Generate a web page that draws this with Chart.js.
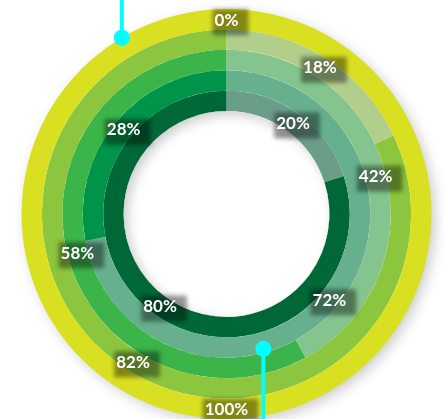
<!DOCTYPE html>
<html>
<head>
<meta charset="utf-8">
<script src="https://cdn.jsdelivr.net/npm/chart.js@4.4.1/dist/chart.umd.min.js"></script>
<style>
  html, body { margin: 0; padding: 0; background: #fff; }
  #wrap { width: 445px; height: 419px; position: relative; }
</style>
</head>
<body>
<div id="wrap"><canvas id="ringChart"></canvas></div>
<script>
// Data: each ring = [remaining, achieved], outer ring first
const segments = ['Remaining', 'Achieved'];
const remaining = [0, 18, 42, 72, 20];
const achieved = [100, 82, 58, 28, 80];

// Colours per ring (solid = achieved, faded = remaining)
const solidColors = ['#d9e021', '#8cc63f', '#3bb54a', '#00934a', '#006837'];
const fadedColors = ['#e8ed8a', '#b1cf8a', '#85c48e', '#67b08d', '#6b9e89'];

// Callout markers (angle in degrees clockwise from top)
const callouts = [
    { ring: 0, angle: 329.3, inset: 0, toTop: true },
    { ring: 3, angle: 164.7, inset: 4, toTop: false }
];

const datasets = remaining.map(function(r, i) {
    return {
        label: 'Ring ' + (i + 1),
        data: [r, achieved[i]],
        backgroundColor: [fadedColors[i], solidColors[i]],
        borderWidth: 0,
        hoverOffset: 0
    };
});

// Soft drop shadow outside the rings and inside the hole
const shadowPlugin = {
    id: 'ringShadow',
    beforeDatasetsDraw(chart) {
        const meta = chart.getDatasetMeta(0).data[0];
        const ctx = chart.ctx;
        ctx.save();
        ctx.shadowColor = 'rgba(0,0,0,0.22)';
        ctx.shadowBlur = 14;
        ctx.shadowOffsetX = 4;
        ctx.shadowOffsetY = 4;
        ctx.fillStyle = '#fff';
        ctx.beginPath();
        ctx.arc(meta.x, meta.y, meta.outerRadius - 1, 0, Math.PI * 2);
        ctx.fill();
        ctx.restore();
    },
    afterDatasetsDraw(chart) {
        const last = chart.getDatasetMeta(remaining.length - 1).data[0];
        const ctx = chart.ctx;
        ctx.save();
        ctx.beginPath();
        ctx.arc(last.x, last.y, last.innerRadius, 0, Math.PI * 2);
        ctx.clip();
        ctx.shadowColor = 'rgba(0,0,0,0.2)';
        ctx.shadowBlur = 12;
        ctx.shadowOffsetX = 4;
        ctx.shadowOffsetY = 4;
        ctx.fillStyle = '#fff';
        ctx.beginPath();
        ctx.rect(0, 0, chart.width, chart.height);
        ctx.arc(last.x, last.y, last.innerRadius, 0, Math.PI * 2);
        ctx.fill('evenodd');
        ctx.restore();
    }
};

// Percentage labels on dark blurred boxes
const labelPlugin = {
    id: 'ringLabels',
    afterDatasetsDraw(chart) {
        const ctx = chart.ctx;
        ctx.save();
        ctx.font = 'bold 17px Lato, "Open Sans", sans-serif';
        ctx.textAlign = 'center';
        ctx.textBaseline = 'middle';
        chart.data.datasets.forEach(function(ds, di) {
            const meta = chart.getDatasetMeta(di);
            meta.data.forEach(function(arc, j) {
                const p = arc.getProps(['x', 'y', 'startAngle', 'endAngle', 'innerRadius', 'outerRadius']);
                const mid = (p.startAngle + p.endAngle) / 2;
                const r = (p.innerRadius + p.outerRadius) / 2;
                const x = p.x + Math.cos(mid) * r;
                const y = p.y + Math.sin(mid) * r;
                const text = ds.data[j] + '%';
                const w = ctx.measureText(text).width + 12;
                const h = 26;
                ctx.save();
                ctx.filter = 'blur(2px)';
                ctx.fillStyle = 'rgba(0,0,0,0.4)';
                ctx.fillRect(x - w / 2 + 4, y - h / 2 + 3, w, h);
                ctx.restore();
                ctx.fillStyle = '#fff';
                ctx.fillText(text, x, y + 1);
            });
        });
        ctx.restore();
    }
};

// Cyan pointer lines with dots
const calloutPlugin = {
    id: 'callouts',
    afterDraw(chart) {
        const ctx = chart.ctx;
        ctx.save();
        ctx.strokeStyle = '#00ffff';
        ctx.fillStyle = '#00ffff';
        ctx.lineWidth = 4;
        callouts.forEach(function(c) {
            const arc = chart.getDatasetMeta(c.ring).data[0];
            const a = (c.angle - 90) * Math.PI / 180;
            const r = arc.outerRadius - c.inset;
            const x = arc.x + Math.cos(a) * r;
            const y = arc.y + Math.sin(a) * r;
            ctx.beginPath();
            ctx.moveTo(x, y);
            ctx.lineTo(x, c.toTop ? 0 : chart.height);
            ctx.stroke();
            ctx.beginPath();
            ctx.arc(x, y, 8, 0, Math.PI * 2);
            ctx.fill();
        });
        ctx.restore();
    }
};

new Chart(document.getElementById('ringChart'), {
    type: 'doughnut',
    data: {
        labels: segments,
        datasets: datasets
    },
    options: {
        responsive: true,
        maintainAspectRatio: false,
        animation: false,
        cutout: '50.2%',
        layout: {
            padding: { top: 9, left: 21, right: 13, bottom: 0 }
        },
        plugins: {
            legend: { display: false },
            tooltip: { enabled: false }
        },
        events: []
    },
    plugins: [shadowPlugin, labelPlugin, calloutPlugin]
});
</script>
</body>
</html>
